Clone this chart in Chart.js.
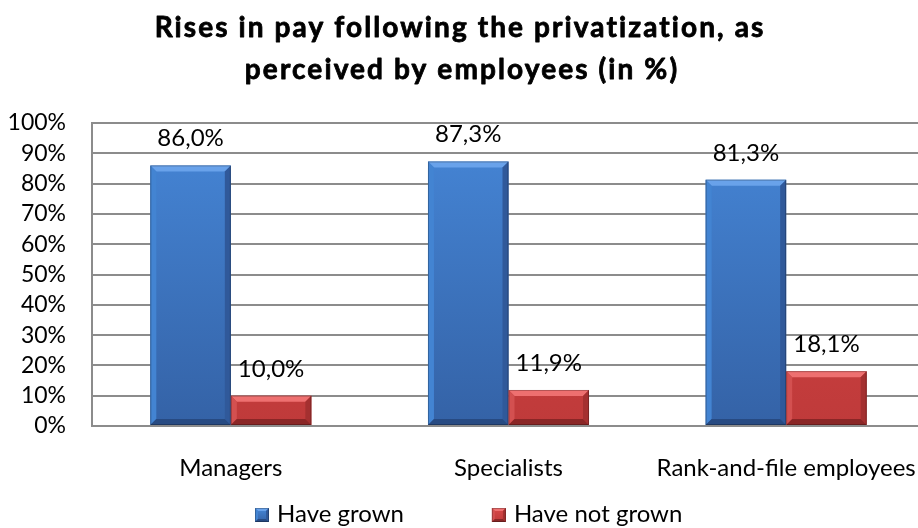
<!DOCTYPE html>
<html>
<head>
<meta charset="utf-8">
<script src="https://cdn.jsdelivr.net/npm/chart.js@4/dist/chart.umd.min.js"></script>
<style>
  html, body { margin: 0; padding: 0; background: #fff; overflow: hidden; width: 918px; height: 528px; }
  #wrap { position: absolute; left: 0; top: 0; width: 925px; height: 528px; }
</style>
</head>
<body>
<div id="wrap"><canvas id="chart" width="925" height="528"></canvas></div>
<script>
// Survey results: share of employees reporting pay changes after privatization
const categories = ['Managers', 'Specialists', 'Rank-and-file employees'];
const seriesNames = ['Have grown', 'Have not grown'];
const haveGrown = [86.0, 87.3, 81.3];
const haveNotGrown = [10.0, 11.9, 18.1];
const titleLines = ['Rises in pay following the privatization, as', 'perceived by employees (in %)'];

const FONT = 'Lato';
const TEXT_SIZE = 24;

// Palette for the two series: body gradient stops and bevel shades
const palettes = [
  { top: '#4687d8', bottom: '#3462a6', light: '#69a2ea', side: '#4384d2', dark: '#30599a', base: '#274a82' },
  { top: '#d84848', bottom: '#bf3a3a', light: '#ee7070', side: '#d35050', dark: '#a43030', base: '#8a2626' }
];

function bodyGradient(p) {
  return (ctx) => {
    const area = ctx.chart.chartArea;
    if (!area) return p.top;
    const g = ctx.chart.ctx.createLinearGradient(0, area.bottom, 0, area.top);
    g.addColorStop(0, p.bottom);
    g.addColorStop(1, p.top);
    return g;
  };
}

function fmt(v) {
  return v.toFixed(1).replace('.', ',') + '%';
}

// Draws the bevelled edges of a rectangle
function drawBevel(c, l, t, r, b, p, size) {
  const s = Math.min(size, (r - l) / 2, (b - t) / 2);
  c.save();
  // top
  c.fillStyle = p.light;
  c.beginPath(); c.moveTo(l, t); c.lineTo(r, t); c.lineTo(r - s, t + s); c.lineTo(l + s, t + s); c.closePath(); c.fill();
  // left
  c.fillStyle = p.side;
  c.beginPath(); c.moveTo(l, t); c.lineTo(l + s, t + s); c.lineTo(l + s, b - s); c.lineTo(l, b); c.closePath(); c.fill();
  // right
  c.fillStyle = p.dark;
  c.beginPath(); c.moveTo(r, t); c.lineTo(r, b); c.lineTo(r - s, b - s); c.lineTo(r - s, t + s); c.closePath(); c.fill();
  // bottom
  c.fillStyle = p.base;
  c.beginPath(); c.moveTo(l, b); c.lineTo(l + s, b - s); c.lineTo(r - s, b - s); c.lineTo(r, b); c.closePath(); c.fill();
  // thin dark rim
  c.strokeStyle = 'rgba(0,0,0,0.25)';
  c.lineWidth = 1;
  c.strokeRect(l + 0.5, t + 0.5, r - l - 1, b - t - 1);
  c.restore();
}

const bevelPlugin = {
  id: 'bevel',
  afterDatasetsDraw(chart) {
    const c = chart.ctx;
    chart.data.datasets.forEach((ds, i) => {
      const meta = chart.getDatasetMeta(i);
      meta.data.forEach((bar) => {
        const half = bar.width / 2;
        drawBevel(c, bar.x - half, bar.y, bar.x + half, bar.base, palettes[i], 6);
      });
    });
  }
};

const valueLabelPlugin = {
  id: 'valueLabels',
  afterDatasetsDraw(chart) {
    const c = chart.ctx;
    c.save();
    c.font = TEXT_SIZE + 'px ' + FONT;
    c.fillStyle = '#000';
    c.textAlign = 'center';
    c.textBaseline = 'alphabetic';
    chart.data.datasets.forEach((ds, i) => {
      const meta = chart.getDatasetMeta(i);
      meta.data.forEach((bar, j) => {
        c.fillText(fmt(ds.data[j]), bar.x, bar.y - 19);
      });
    });
    c.restore();
  }
};

// Two-line bold heading above the plot
const headingPlugin = {
  id: 'heading',
  afterDraw(chart) {
    const c = chart.ctx;
    c.save();
    c.font = 'bold 28px ' + FONT;
    if ('letterSpacing' in c) c.letterSpacing = '2.1px';
    c.fillStyle = '#000';
    c.strokeStyle = '#000';
    c.lineWidth = 0.8;
    c.lineJoin = 'round';
    c.textAlign = 'center';
    c.textBaseline = 'alphabetic';
    const centers = [460, 462];
    const baselines = [37, 79];
    titleLines.forEach((line, i) => {
      c.fillText(line, centers[i], baselines[i]);
      c.strokeText(line, centers[i], baselines[i]);
    });
    c.restore();
  }
};

const legendPlugin = {
  id: 'bottomLegend',
  afterDraw(chart) {
    const c = chart.ctx;
    c.save();
    c.font = TEXT_SIZE + 'px ' + FONT;
    c.textBaseline = 'alphabetic';
    c.fillStyle = '#000';
    const box = 14, gapText = 8, gapItems = 88, startX = 255, baseY = 522;
    let x = startX;
    chart.data.datasets.forEach((ds, i) => {
      const p = palettes[i];
      const top = baseY - 14;
      const g = c.createLinearGradient(0, top + box, 0, top);
      g.addColorStop(0, p.bottom); g.addColorStop(1, p.top);
      c.fillStyle = g;
      c.fillRect(x, top, box, box);
      drawBevel(c, x, top, x + box, top + box, p, 3);
      c.fillStyle = '#000';
      c.fillText(ds.label, x + box + gapText, baseY);
      x += box + gapText + c.measureText(ds.label).width + gapItems;
    });
    c.restore();
  }
};

new Chart(document.getElementById('chart'), {
  type: 'bar',
  data: {
    labels: categories,
    datasets: [
      { label: seriesNames[0], data: haveGrown, backgroundColor: bodyGradient(palettes[0]), borderWidth: 0 },
      { label: seriesNames[1], data: haveNotGrown, backgroundColor: bodyGradient(palettes[1]), borderWidth: 0 }
    ]
  },
  options: {
    responsive: false,
    animation: false,
    devicePixelRatio: 1,
    layout: { padding: { left: 0, right: 0, top: 123, bottom: 0 } },
    categoryPercentage: 0.58,
    barPercentage: 1.0,
    plugins: {
      legend: { display: false },
      tooltip: { enabled: false },
      title: { display: false }
    },
    scales: {
      x: {
        // hidden tick marks reserve the gap between the axis line and the category names
        grid: { display: false, drawTicks: true, tickLength: 28 },
        border: { display: true, color: '#8c8c8c', width: 2 },
        ticks: { color: '#000', font: { family: FONT, size: TEXT_SIZE }, padding: 0, maxRotation: 0, autoSkip: false },
        afterFit(scale) { scale.height = 102; }
      },
      y: {
        min: 0,
        max: 100,
        grid: { color: '#8c8c8c', lineWidth: 2, drawTicks: false },
        border: { display: true, color: '#8c8c8c', width: 2 },
        ticks: { stepSize: 10, autoSkip: false, color: '#000', font: { family: FONT, size: 23 }, padding: 26, callback: v => v + '%' },
        afterFit(scale) { scale.width = 92; }
      }
    }
  },
  plugins: [bevelPlugin, valueLabelPlugin, headingPlugin, legendPlugin]
});
</script>
</body>
</html>
